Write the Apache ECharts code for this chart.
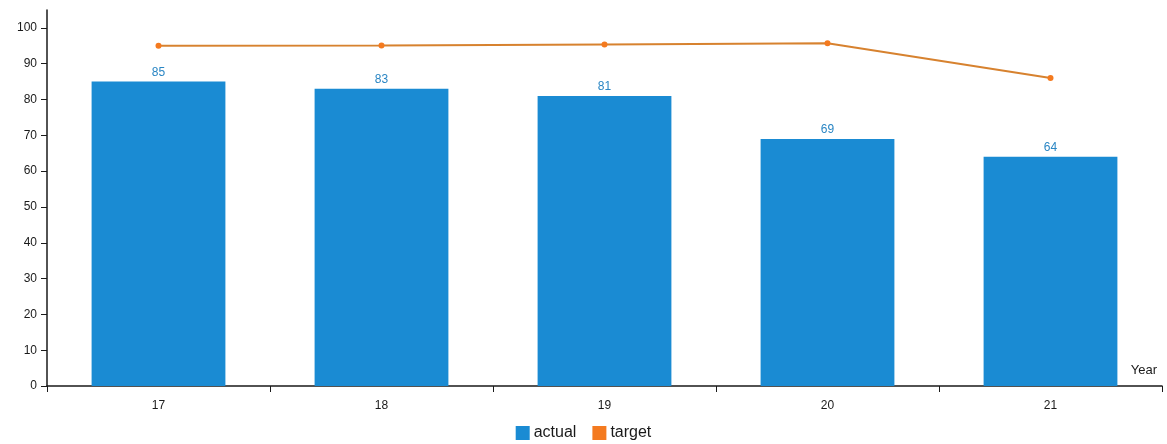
<!DOCTYPE html>
<html>
<head>
<meta charset="utf-8">
<script src="https://cdn.jsdelivr.net/npm/echarts@6/dist/echarts.min.js"></script>
<style>
  html, body { margin: 0; padding: 0; background: #fff; }
  #chart { width: 1167px; height: 444px; }
</style>
</head>
<body>
<div id="chart"></div>
<script>
// Years on the x axis
const years = ['17', '18', '19', '20', '21'];
// Actual values per year
const actual = [85, 83, 81, 69, 64];
// Target values per year
const target = [95, 95.1, 95.4, 95.7, 86];
// Y axis tick values
const yTicks = [0, 10, 20, 30, 40, 50, 60, 70, 80, 90, 100];

const font = '"Liberation Sans", Arial, sans-serif';
const ink = '#1a1a1a';
const chart = echarts.init(document.getElementById('chart'), null, { renderer: 'canvas' });

chart.setOption({
  animation: false,
  backgroundColor: '#ffffff',
  grid: { left: 47, right: 5, top: 10, bottom: 58, containLabel: false },
  legend: {
    top: 425,
    left: 'center',
    padding: 0,
    itemWidth: 14,
    itemHeight: 14,
    itemGap: 16,
    icon: 'rect',
    textStyle: { fontFamily: font, fontSize: 16, color: ink, padding: [0, 0, 0, -1] },
    data: ['actual', 'target']
  },
  xAxis: {
    type: 'category',
    data: years,
    boundaryGap: true,
    name: 'Year',
    nameLocation: 'end',
    nameGap: 0,
    nameTextStyle: {
      fontFamily: font, fontSize: 13, color: ink,
      align: 'right', verticalAlign: 'bottom', padding: [0, 5, 9, 0]
    },
    axisLine: { lineStyle: { color: ink, width: 1.5 } },
    axisTick: { show: true, length: 6, alignWithLabel: false, lineStyle: { color: ink } },
    axisLabel: { fontFamily: font, fontSize: 12, color: ink, margin: 14 },
    splitLine: { show: false }
  },
  yAxis: {
    type: 'value',
    min: 0,
    max: 105,
    axisLine: { show: true, lineStyle: { color: ink, width: 1.5 } },
    axisTick: { show: true, length: 6, customValues: yTicks, lineStyle: { color: ink } },
    axisLabel: { fontFamily: font, fontSize: 12, color: ink, margin: 10, customValues: yTicks },
    splitLine: { show: false }
  },
  series: [
    {
      name: 'actual',
      type: 'bar',
      data: actual,
      barWidth: '60%',
      itemStyle: { color: '#1a8bd3' },
      label: {
        show: true,
        position: 'top',
        distance: 3,
        fontFamily: font,
        fontSize: 12,
        color: '#2a86c4'
      }
    },
    {
      name: 'target',
      type: 'line',
      data: target,
      symbol: 'circle',
      symbolSize: 6,
      lineStyle: { color: '#d7822f', width: 2 },
      itemStyle: { color: '#f47a1f' }
    }
  ]
});
</script>
</body>
</html>
